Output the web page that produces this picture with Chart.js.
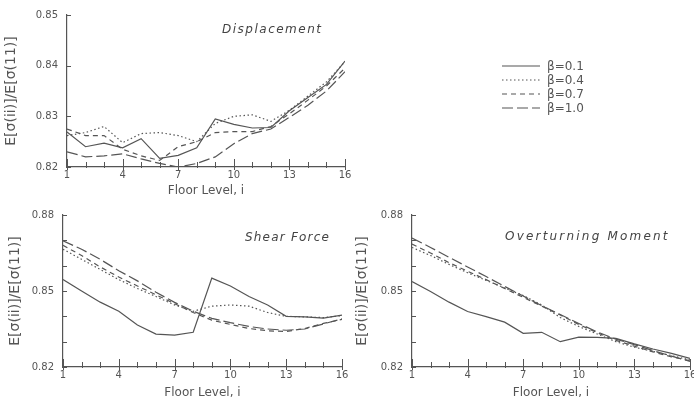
<!DOCTYPE html>
<html>
<head>
<meta charset="utf-8">
<script src="https://cdn.jsdelivr.net/npm/chart.js@4.4.1/dist/chart.umd.min.js"></script>
<style>
  body { margin: 0; background: #fff; width: 694px; height: 406px; position: relative; overflow: hidden;
         font-family: "DejaVu Sans", sans-serif; color: #555; }
  .box { position: absolute; }
  .ttl { position: absolute; font-style: italic; font-size: 12px; letter-spacing: 1.5px; color: #444; white-space: nowrap;
         will-change: transform; }
  .leg { position: absolute; left: 502px; top: 59px; font-size: 12px; color: #555; will-change: transform; }
  .leg div { height: 14px; display: flex; align-items: center; }
  .leg svg { margin-right: 7px; }
</style>
</head>
<body>
<div class="box" style="left:0;top:0"><canvas id="disp" width="352" height="198"></canvas></div>
<div class="box" style="left:0;top:200px"><canvas id="shear" width="350" height="206"></canvas></div>
<div class="box" style="left:345px;top:200px"><canvas id="moment" width="349" height="206"></canvas></div>

<div class="ttl" style="left:222px;top:22px">Displacement</div>
<div class="ttl" style="left:245px;top:230px;letter-spacing:1.2px">Shear Force</div>
<div class="ttl" style="left:505px;top:229px;letter-spacing:2.2px">Overturning Moment</div>
<div class="leg" id="legend"></div>

<script>
// floor levels and beta labels
const floors = [1, 2, 3, 4, 5, 6, 7, 8, 9, 10, 11, 12, 13, 14, 15, 16];
const betaLabels = ['β=0.1', 'β=0.4', 'β=0.7', 'β=1.0'];

// Displacement
const dispB01 = [0.8269, 0.8240, 0.8247, 0.8238, 0.8256, 0.8217, 0.8223, 0.8238, 0.8295, 0.8284, 0.8277, 0.8278, 0.8311, 0.8337, 0.8363, 0.8409];
const dispB04 = [0.8262, 0.8268, 0.8280, 0.8248, 0.8266, 0.8268, 0.8262, 0.8250, 0.8286, 0.8300, 0.8303, 0.8290, 0.8312, 0.8340, 0.8368, 0.8408];
const dispB07 = [0.8275, 0.8262, 0.8262, 0.8235, 0.8222, 0.8213, 0.8240, 0.8250, 0.8268, 0.8270, 0.8270, 0.8280, 0.8305, 0.8332, 0.8360, 0.8395];
const dispB10 = [0.8230, 0.8220, 0.8222, 0.8226, 0.8216, 0.8207, 0.8200, 0.8207, 0.8220, 0.8246, 0.8266, 0.8275, 0.8298, 0.8322, 0.8350, 0.8388];

// Shear force
const shearB01 = [0.8545, 0.8500, 0.8456, 0.8420, 0.8366, 0.8330, 0.8326, 0.8337, 0.8551, 0.8520, 0.8478, 0.8445, 0.8400, 0.8398, 0.8393, 0.8405];
const shearB04 = [0.8665, 0.8625, 0.8585, 0.8545, 0.8510, 0.8478, 0.8445, 0.8420, 0.8440, 0.8445, 0.8440, 0.8415, 0.8400, 0.8398, 0.8395, 0.8403];
const shearB07 = [0.8680, 0.8640, 0.8595, 0.8555, 0.8520, 0.8485, 0.8450, 0.8415, 0.8385, 0.8368, 0.8352, 0.8343, 0.8340, 0.8352, 0.8372, 0.8388];
const shearB10 = [0.8698, 0.8665, 0.8625, 0.8580, 0.8540, 0.8495, 0.8455, 0.8420, 0.8392, 0.8375, 0.8360, 0.8350, 0.8345, 0.8350, 0.8370, 0.8390];

// Overturning moment
const momB01 = [0.8537, 0.8498, 0.8456, 0.8419, 0.8399, 0.8377, 0.8333, 0.8337, 0.8300, 0.8318, 0.8317, 0.8313, 0.8291, 0.8271, 0.8254, 0.8234];
const momB04 = [0.8672, 0.8640, 0.8605, 0.8572, 0.8542, 0.8512, 0.8482, 0.8445, 0.8395, 0.8360, 0.8330, 0.8300, 0.8278, 0.8262, 0.8245, 0.8228];
const momB07 = [0.8685, 0.8650, 0.8612, 0.8578, 0.8545, 0.8510, 0.8475, 0.8440, 0.8405, 0.8368, 0.8335, 0.8305, 0.8282, 0.8260, 0.8240, 0.8225];
const momB10 = [0.8709, 0.8672, 0.8633, 0.8595, 0.8557, 0.8518, 0.8480, 0.8442, 0.8407, 0.8372, 0.8338, 0.8310, 0.8288, 0.8265, 0.8243, 0.8222];

const lineColor = '#555';
const dashes = [[], [1.5, 2.5], [5, 4], [11, 4]];
const yTitle = 'E[σ(ii)]/E[σ(11)]';

// short tick marks pointing into the plot, like the original figure
const innerTicks = {
    id: 'innerTicks',
    afterDraw(chart) {
        const { ctx, chartArea } = chart;
        const x = chart.scales.x, y = chart.scales.y;
        ctx.save();
        ctx.strokeStyle = lineColor;
        ctx.lineWidth = 1;
        ctx.beginPath();
        x.ticks.forEach(t => {
            const px = Math.round(x.getPixelForValue(t.value)) + 0.5;
            const major = (t.value - 1) % 3 === 0;
            ctx.moveTo(px, chartArea.bottom + (major ? 3 : 1));
            ctx.lineTo(px, chartArea.bottom - (major ? 8 : 5));
        });
        y.ticks.forEach(t => {
            const py = Math.round(y.getPixelForValue(t.value)) + 0.5;
            ctx.moveTo(chartArea.left - 1, py);
            ctx.lineTo(chartArea.left + 4, py);
        });
        ctx.stroke();
        ctx.restore();
    }
};

function makeChart(id, series, yMin, yMax, tickEvery, box) {
    const ctx = document.getElementById(id);
    new Chart(ctx, {
        type: 'line',
        data: {
            datasets: series.map((vals, i) => ({
                label: betaLabels[i],
                data: floors.map((f, k) => ({ x: f, y: vals[k] })),
                borderColor: lineColor,
                borderWidth: 1.2,
                borderDash: dashes[i],
                pointRadius: 0,
                fill: false,
                tension: 0
            }))
        },
        options: {
            responsive: false,
            animation: false,
            layout: { padding: { left: 0, right: box.right, top: box.top, bottom: 0 } },
            plugins: { legend: { display: false }, tooltip: { enabled: false } },
            scales: {
                x: {
                    type: 'linear',
                    min: 1, max: 16,
                    grid: { display: false, drawTicks: false },
                    border: { color: lineColor, width: 1.2 },
                    ticks: {
                        stepSize: 1, padding: 2, color: '#555',
                        font: { family: 'DejaVu Sans', size: 10 },
                        maxRotation: 0, autoSkip: false,
                        callback: v => ((v - 1) % 3 === 0 ? String(v) : '')
                    },
                    title: {
                        display: true, text: 'Floor Level, i', color: '#555',
                        font: { family: 'DejaVu Sans', size: 12 },
                        padding: { top: 0, bottom: box.titleBottom }
                    },
                    afterFit: s => { s.height = box.xh; s.paddingLeft = 0; s.paddingRight = 0; }
                },
                y: {
                    min: yMin, max: yMax,
                    grid: { display: false, drawTicks: false },
                    border: { color: lineColor, width: 1.2 },
                    ticks: {
                        stepSize: 0.01, padding: 9, color: '#555',
                        font: { family: 'DejaVu Sans', size: 10 },
                        autoSkip: false,
                        callback: v => (Math.round(v * 100) % tickEvery === 82 % tickEvery ? v.toFixed(2) : '')
                    },
                    title: {
                        display: true, text: yTitle, color: '#555',
                        font: { family: 'DejaVu Sans', size: 14 },
                        padding: { top: box.titleLeft, bottom: 0 }
                    },
                    afterFit: s => { s.width = box.yw; }
                }
            }
        },
        plugins: [innerTicks]
    });
}

makeChart('disp', [dispB01, dispB04, dispB07, dispB10], 0.82, 0.85, 1,
    { right: 7, top: 13, xh: 31, yw: 67, titleBottom: 0, titleLeft: 3 });
makeChart('shear', [shearB01, shearB04, shearB07, shearB10], 0.82, 0.88, 3,
    { right: 8, top: 15, xh: 39, yw: 63, titleBottom: 6, titleLeft: 7 });
makeChart('moment', [momB01, momB04, momB07, momB10], 0.82, 0.88, 3,
    { right: 4, top: 15, xh: 39, yw: 67, titleBottom: 6, titleLeft: 9 });

// legend built from the same labels and dash styles
const legend = document.getElementById('legend');
betaLabels.forEach((lab, i) => {
    const row = document.createElement('div');
    row.innerHTML = '<svg width="38" height="4"><line x1="0" y1="2" x2="38" y2="2" stroke="' + lineColor +
        '" stroke-width="1.2" stroke-dasharray="' + (dashes[i].length ? dashes[i].join(',') : 'none') + '"/></svg>' +
        '<span>' + lab + '</span>';
    legend.appendChild(row);
});
</script>
</body>
</html>
